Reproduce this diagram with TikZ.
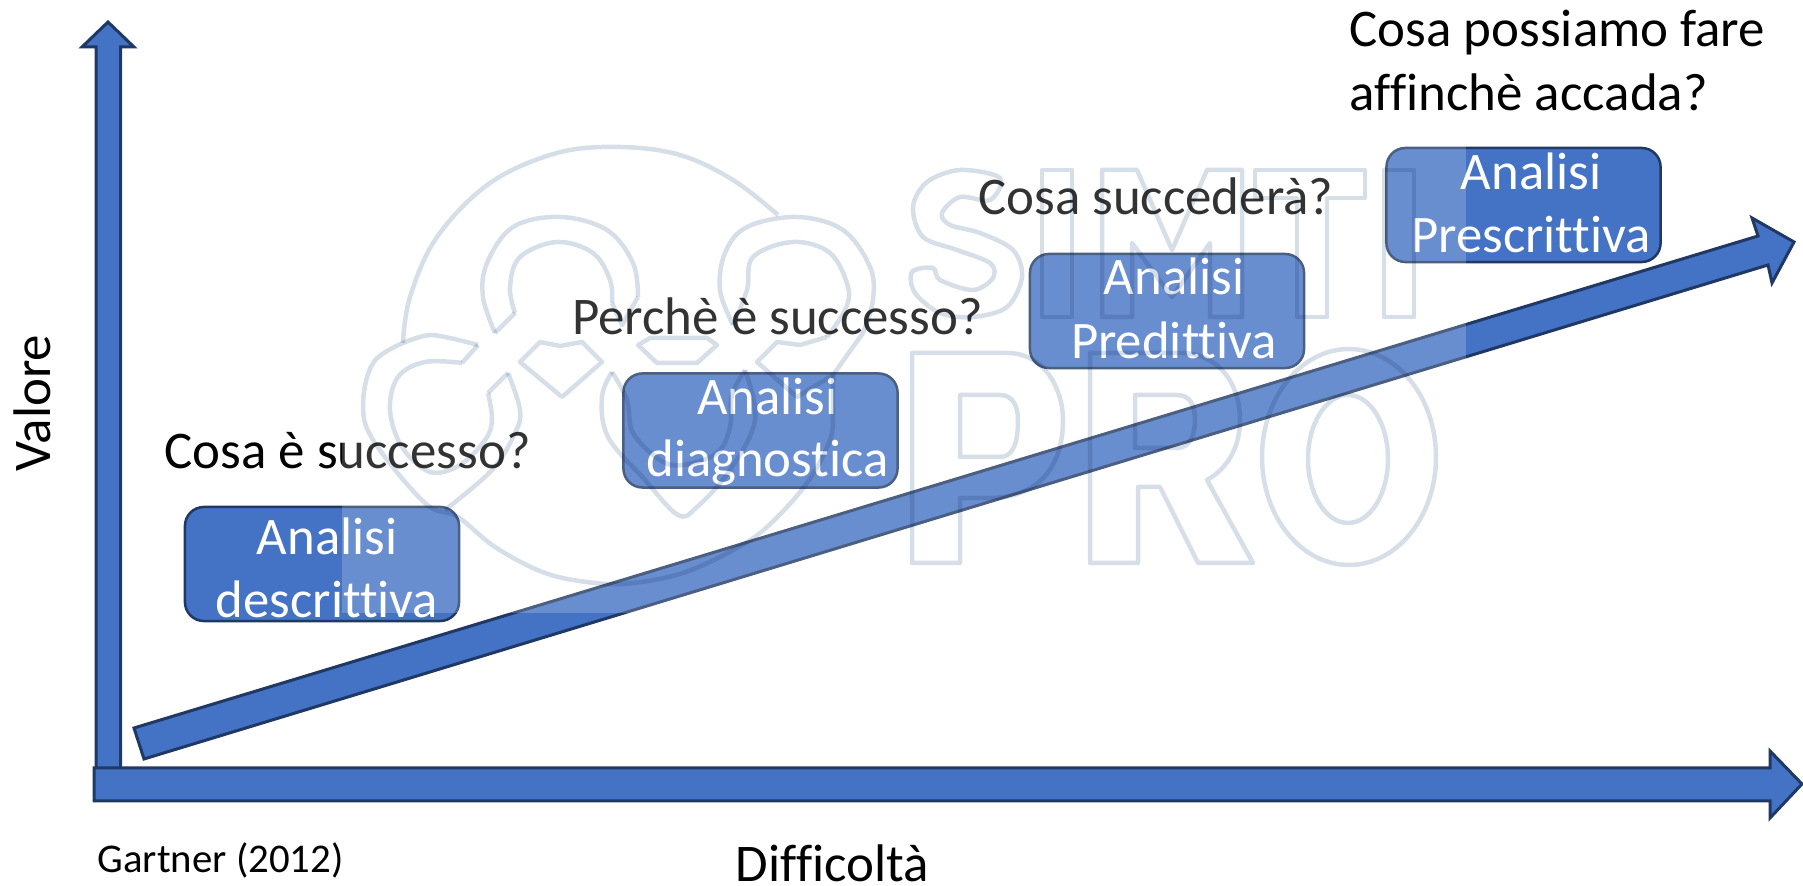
\documentclass[tikz,border=0pt]{standalone}
\usepackage{fontspec}
\setmainfont[Ligatures=NoCommon]{Carlito}
\definecolor{fillblue}{HTML}{4472C4}
\definecolor{edgeblue}{HTML}{1F3864}
\definecolor{logoblue}{RGB}{214,223,232}
\tikzset{
  blockarrow/.style = {fill = fillblue, draw = edgeblue, line width = 0.03cm, miter limit = 8},
  analisibox/.style = {fill = fillblue, draw = edgeblue, line width = 0.025cm, rounded corners = 0.19cm, minimum width = 2.74cm, minimum height = 1.14cm},
  boxtext/.style = {anchor = base, inner sep = 0, text = white, font = \fontsize{15}{18}\selectfont},
  question/.style = {anchor = base west, inner sep = 0, text = black, font = \fontsize{15.05}{18}\selectfont},
  logoline/.style = {draw = logoblue, line width = 0.045cm, line join = round}
}
\begin{document}
\begin{tikzpicture}[x = 0.01cm, y = -0.01cm]
\useasboundingbox (0,0) rectangle (1803,886);
\draw [blockarrow] (96,770) -- (96,47) -- (82,47) -- (108,22) -- (134,47) -- (120.5,47) -- (120.5,770) -- cycle;
\draw [blockarrow] (94,768) -- (1770,768) -- (1770,751) -- (1802,784) -- (1770,818) -- (1770,801) -- (94,801) -- cycle;
\draw [blockarrow] (134,728) -- (1758,236) -- (1752,218) -- (1794,242) -- (1772,283) -- (1768,265) -- (144,759) -- cycle;
\node (descrittiva) [analisibox] at (322,564) {};
\node (diagnostica) [analisibox] at (760.5,430.5) {};
\node (predittiva) [analisibox] at (1167,311) {};
\node (prescrittiva) [analisibox] at (1523.5,205) {};
\node (descrittivaA) [boxtext] at (327,555) {Analisi};
\node (descrittivaB) [boxtext] at (327,618) {descrittiva};
\node (diagnosticaA) [boxtext] at (767.5,415) {Analisi};
\node (diagnosticaB) [boxtext] at (767.5,477) {diagnostica};
\node (predittivaA) [boxtext] at (1174,295) {Analisi};
\node (predittivaB) [boxtext] at (1174,359) {Predittiva};
\node (prescrittivaA) [boxtext] at (1531,190) {Analisi};
\node (prescrittivaB) [boxtext] at (1531,253) {Prescrittiva};
\node (domandaA) [question] at (164,469) {Cosa è successo?};
\node (domandaB) [question] at (571.5,335) {Perchè è successo?};
\node (domandaC) [question] at (977.5,215) {Cosa succederà?};
\node (domandaD) [question] at (1349,47) {Cosa possiamo fare};
\node (domandaE) [question] at (1349,111) {affinchè accada?};
\node (valore) [question, anchor = base, rotate = 90] at (51,403) {Valore};
\node (difficolta) [question, anchor = base] at (832.5,882) {Difficoltà};
\node (gartner) [question, font = \fontsize{11.6}{14}\selectfont] at (97,873) {Gartner (2012)};
\fill [white, opacity = 0.2] (342,140) rectangle (1466,613);
\begin{scope}[blend mode = multiply]
\draw [logoline] plot [smooth, tension = 0.6] coordinates {(403,343) (410,297) (437,237) (490,183) (557,153) (620,147) (680,155) (733,180) (778,215)};
\draw [logoline] plot [smooth, tension = 0.6] coordinates {(495,333) (483,297) (487,263) (513,227) (560,217) (607,230) (633,263) (638,297)};
\draw [logoline] plot [smooth, tension = 0.6] coordinates {(515,313) (510,287) (520,257) (557,242) (593,253) (610,280) (612,303)};
\draw [logoline] (495,333) -- (515,313) (612,303) -- (622,325) -- (638,297);
\draw [logoline] plot [smooth, tension = 0.6] coordinates {(733,325) (720,290) (725,253) (747,227) (797,217) (843,230) (870,267) (873,300) (863,333)};
\draw [logoline] plot [smooth, tension = 0.6] coordinates {(733,325) (747,290) (753,257) (793,242) (830,253) (848,287) (845,310) (827,337)};
\draw [logoline] (863,333) -- (833,375);
\draw [logoline] plot [smooth, tension = 0.6] coordinates {(833,375) (833,410) (830,440) (807,483) (767,527) (733,550) (683,573) (633,583) (595,583) (545,573) (495,547) (458,517) (425,503) (375,443) (363,407) (373,363) (403,343)};
\draw [logoline] plot [smooth, tension = 0.5] coordinates {(403,343) (432,335) (478,345)};
\draw [logoline] (478,345) -- (462,363);
\draw [logoline] plot [smooth, tension = 0.6] coordinates {(462,363) (425,362) (398,377) (390,410) (402,447) (430,472) (460,465) (485,440) (492,420) (488,393)};
\draw [logoline] (488,393) -- (508,373);
\draw [logoline] plot [smooth, tension = 0.6] coordinates {(508,373) (520,410) (515,433) (492,470) (445,510)};
\draw [logoline] (520,362) -- (540,342) -- (560,346) -- (582,342) -- (602,362) -- (562,397) -- cycle;
\draw [logoline] (638,345) -- (650,338) -- (707,338) -- (717,345) -- (697,363) -- (657,363) -- cycle;
\draw [logoline] plot [smooth, tension = 0.6] coordinates {(612,372) (602,397) (608,437) (645,480) (678,515) (697,507) (730,470) (755,420) (745,370)};
\draw [logoline] plot [smooth, tension = 0.6] coordinates {(612,372) (627,400) (633,433) (660,460) (683,465) (717,453) (730,427) (732,395) (745,370)};
\draw [logoline] (827,337) -- (800,345) -- (777,342) -- (757,362) -- (797,397) -- (833,375);
\draw [logoline] plot [smooth cycle, tension = 0.55] coordinates {(1000,178) (960,170) (927,182) (913,207) (923,237) (957,250) (990,263) (993,278) (973,290) (940,280) (933,268) (912,272) (915,293) (940,313) (973,317) (1007,307) (1022,277) (1013,250) (980,233) (950,225) (942,213) (960,197) (990,200)};
\foreach \n in {1042,1384} \draw [logoline] (\n,170) rectangle (\n+30,317);
\draw [logoline] (1102,170) -- (1137,170) -- (1172,250) -- (1207,170) -- (1242,170) -- (1242,317) -- (1210,317) -- (1210,243) -- (1172,297) -- (1132,243) -- (1132,317) -- (1102,317) -- cycle;
\draw [logoline] (1255,170) -- (1365,170) -- (1365,198) -- (1327,198) -- (1327,317) -- (1297,317) -- (1297,198) -- (1255,198) -- cycle;
\draw [logoline] (912,353) -- (1007,353) .. controls (1045,353) and (1063,390) .. (1063,420) .. controls (1063,470) and (1035,498) .. (990,498) -- (960,498) -- (960,563) -- (912,563) -- cycle;
\draw [logoline] (960,395) -- (1000,395) .. controls (1012,395) and (1018,405) .. (1018,420) .. controls (1018,445) and (1012,457) .. (1000,457) -- (960,457) -- cycle;
\draw [logoline] (1090,353) -- (1180,353) .. controls (1220,353) and (1240,385) .. (1240,420) .. controls (1240,450) and (1225,470) .. (1207,480) -- (1253,563) -- (1198,563) -- (1160,487) -- (1138,487) -- (1138,563) -- (1090,563) -- cycle;
\draw [logoline] (1135,395) -- (1177,395) .. controls (1190,395) and (1195,405) .. (1195,420) .. controls (1195,435) and (1190,448) .. (1177,448) -- (1135,448) -- cycle;
\draw [logoline] (1349,457) ellipse [x radius = 87, y radius = 108];
\draw [logoline] (1348,459) ellipse [x radius = 40, y radius = 64];
\end{scope}
\end{tikzpicture}
\end{document}
